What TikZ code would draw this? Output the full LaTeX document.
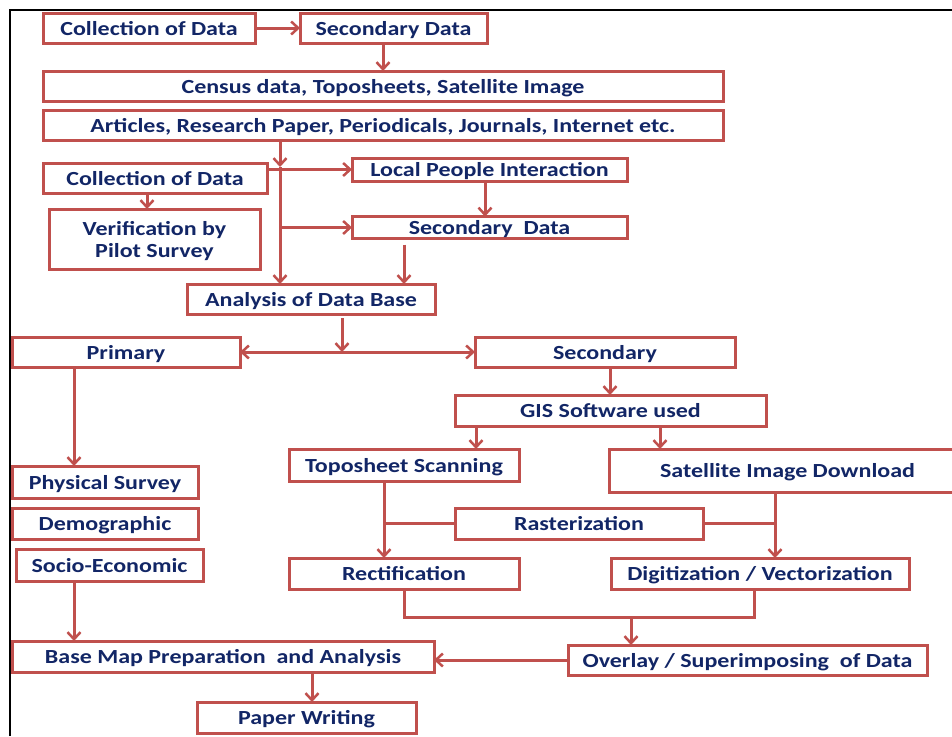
\documentclass[tikz,border=0pt]{standalone}
\usepackage{fontspec}
\setmainfont{Carlito}[FakeStretch=1.2]
\usetikzlibrary{arrows.meta}
\definecolor{boxred}{HTML}{C0504D}
\definecolor{navy}{RGB}{18,38,102}
\tikzset{
  bx/.style={draw=boxred, line width=3pt, fill=white, inner sep=0pt, outer sep=0pt,
    text=navy, font=\fontsize{20}{22}\selectfont\bfseries, align=center},
  arr/.style={draw=boxred, line width=3pt, -{Straight Barb[length=7pt,width=13pt,line width=2.5pt]}},
  ln/.style={draw=boxred, line width=3pt},
}
% box from its corners: name, x1, y1, x2, y2, text (lowered slightly, keeping its size, to sit optically centred)
\newcommand{\bx}[6]{\node[bx, minimum width={#4-#2}, minimum height={#5-#3}] (#1) at ({(#2+#4)/2},{(#3+#5)/2})
  {\raisebox{-3pt}[\height][\depth]{\begin{tabular}{@{}c@{}}#6\end{tabular}}};}
\begin{document}
\begin{tikzpicture}[x=1pt,y=-1pt]
\useasboundingbox (0,0) rectangle (952,736);
\clip (0,0) rectangle (952,736);
\fill[white] (0,0) rectangle (952,736);
\draw[black, line width=1.5pt] (10,736) -- (10,10) -- (952,10);

% sources
\bx{col}{43}{13}{255}{43}{Collection of Data}
\bx{sd}{300}{13}{487}{43}{Secondary Data}
\bx{cen}{43}{71}{723}{101}{Census data, Toposheets, Satellite Image}
\bx{art}{43}{110}{723}{140}{Articles, Research Paper, Periodicals, Journals, Internet etc.}
\bx{colb}{43}{163}{267}{193}{Collection of Data}
\bx{ver}{49}{209}{260}{269}{Verification by\\Pilot Survey}
\bx{lp}{352}{158}{627}{181}{Local People Interaction}
\bx{sdb}{352}{217}{627}{238}{Secondary\ \ Data}
\bx{ana}{187}{284}{435}{314}{Analysis of Data Base}

% branches
\bx{pri}{12}{337}{240}{367}{Primary}
\bx{sec}{475}{337}{735}{367}{Secondary}
\bx{gis}{455}{395}{766}{426}{GIS Software used}
\bx{top}{289}{449}{519}{481}{Toposheet Scanning}
\bx{sat}{609}{449}{962}{492}{\hspace*{4pt}Satellite Image Download}
\bx{ras}{455}{508}{703}{539}{Rasterization}
\bx{rec}{289}{558}{519}{589}{Rectification}
\bx{dig}{611}{558}{909}{589}{Digitization / Vectorization}
\bx{ov}{568}{645}{927}{675}{Overlay / Superimposing\ \ of Data}

\bx{phy}{12}{466}{198}{498}{Physical Survey}
\bx{dem}{12}{508}{198}{539}{Demographic}
\bx{soc}{16}{549}{203}{581}{Socio-Economic}
\bx{bm}{12}{641}{434}{672}{Base Map Preparation\ \ and Analysis}
\bx{pw}{197}{702}{416}{733}{Paper Writing}

% connectors, upper part
\draw[arr] (col.east) -- (sd.west);
\draw[arr] (sd.south -| 383,0) -- (cen.north -| 383,0);
\coordinate (tk) at (280,167);
\draw[arr] (art.south -| tk) -- (tk);
\draw[arr] (tk) -- (ana.north -| tk);
\draw[arr] (colb.east |- lp.west) -- (lp.west);
\draw[arr] (tk |- sdb.west) -- (sdb.west);
\draw[arr] (lp.south -| 485,0) -- (sdb.north -| 485,0);
\draw[arr, shorten <=6pt] (sdb.south -| 404,0) -- (ana.north -| 404,0);
\draw[arr] (colb.south -| 147,0) -- (ver.north -| 147,0);

% split into primary and secondary
\coordinate (sp) at (342,352);
\draw[arr] (sp) -- (pri.east);
\draw[arr] (sp) -- (sec.west);
\draw[arr, shorten <=4pt] (ana.south -| sp) -- (sp);

% secondary branch
\draw[arr] (sec.south -| 610,0) -- (gis.north -| 610,0);
\draw[arr] (gis.south -| 476,0) -- (top.north -| 476,0);
\draw[arr] (gis.south -| 660,0) -- (sat.north -| 660,0);
\draw[arr] (top.south -| 384,0) -- (rec.north -| 384,0);
\draw[arr] (sat.south -| 775,0) -- (dig.north -| 775,0);
\draw[ln] (ras.west) -- (ras.west -| 384,0);
\draw[ln] (ras.east) -- (ras.east -| 775,0);
\coordinate (mg) at (631,617);
\draw[ln] (rec.south -| 404,0) |- (mg) -| (dig.south -| 754,0);
\draw[arr] (mg) -- (ov.north -| mg);
\draw[arr] (ov.west) -- (ov.west -| bm.east);

% primary branch
\draw[arr] (pri.south -| 74,0) -- (phy.north -| 74,0);
\draw[arr] (soc.south -| 74,0) -- (bm.north -| 74,0);
\draw[arr] (bm.south -| 312,0) -- (pw.north -| 312,0);
\end{tikzpicture}
\end{document}
